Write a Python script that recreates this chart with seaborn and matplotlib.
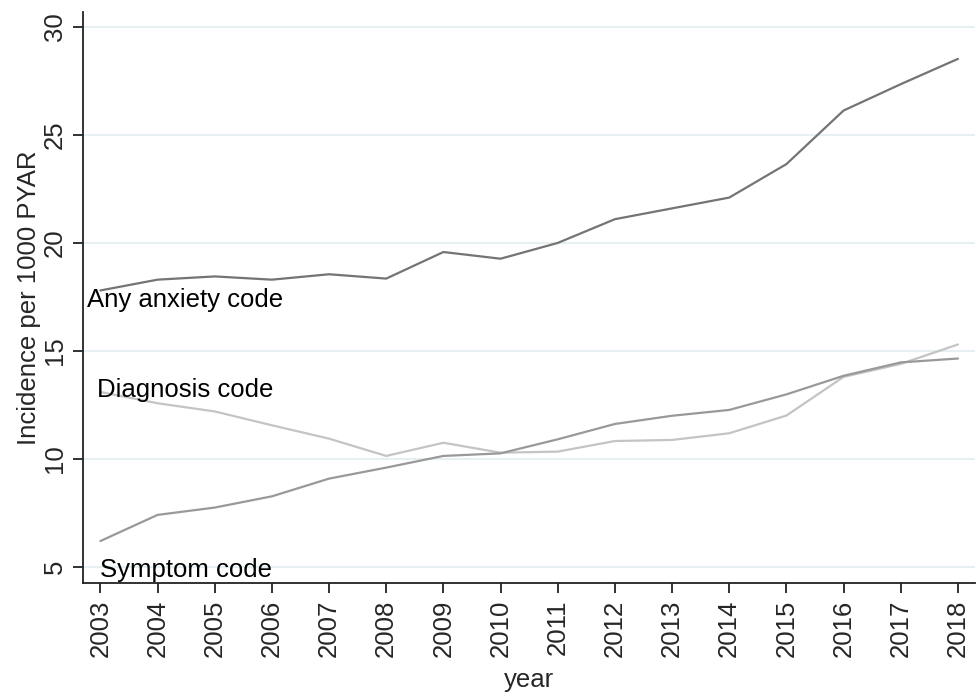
"""Incidence of anxiety codes per 1000 PYAR, 2003-2018."""
import numpy as np
import pandas as pd
import matplotlib
matplotlib.use('Agg')
import matplotlib.pyplot as plt
import seaborn as sns

years = list(range(2003, 2019))
any_anxiety = [17.8, 18.3, 18.45, 18.3, 18.55, 18.35, 19.58, 19.27, 20.0, 21.1,
               21.6, 22.1, 23.65, 26.13, 27.35, 28.52]
diagnosis = [13.1, 12.58, 12.2, 11.56, 10.94, 10.14, 10.75, 10.29, 10.34, 10.83,
             10.88, 11.19, 12.01, 13.8, 14.4, 15.3]
symptom = [6.2, 7.41, 7.75, 8.27, 9.09, 9.6, 10.14, 10.26, 10.91, 11.62,
           12.0, 12.27, 12.99, 13.85, 14.47, 14.65]

series = ['Any anxiety code', 'Diagnosis code', 'Symptom code']
colours = ['#747474', '#c4c4c4', '#999999']
# label offset from the 2003 point, in pixels
label_offsets = [(-13, -10), (-3, 2), (0, -29)]

df = pd.DataFrame({
    'year': years * 3,
    'value': any_anxiety + diagnosis + symptom,
    'series': np.repeat(series, len(years)),
})

sns.set_style('white')
plt.rcParams['font.family'] = ['Liberation Sans', 'DejaVu Sans']
FS = 18.5

fig = plt.figure(figsize=(9.79, 6.94), dpi=100)
ax = fig.add_axes([0.085, 0.16, 0.911, 0.823])

sns.lineplot(data=df, x='year', y='value', hue='series', hue_order=series,
             palette=colours, linewidth=1.6, legend=False, ax=ax)

for name, (dx, dy) in zip(series, label_offsets):
    v0 = df[(df.series == name) & (df.year == years[0])].value.iloc[0]
    ax.annotate(name, xy=(years[0], v0), xytext=(dx, dy),
                textcoords='offset pixels', ha='left', va='center',
                fontsize=FS, color='black')

ax.set_xlim(2002.7, 2018.3)
ax.set_ylim(4.26, 30.7)
ax.set_xticks(years)
ax.set_yticks([5, 10, 15, 20, 25, 30])
ax.grid(axis='y', color='#e6eff1', linewidth=1.5)
ax.set_axisbelow(True)

for s in ['top', 'right']:
    ax.spines[s].set_visible(False)
for s in ['left', 'bottom']:
    ax.spines[s].set_color('#222222')
    ax.spines[s].set_linewidth(1.3)

ax.tick_params(axis='both', direction='out', length=7, width=1.3,
               color='#222222', labelsize=FS, left=True, bottom=True, pad=5)
plt.setp(ax.get_xticklabels(), rotation=90, va='top', ha='center')
plt.setp(ax.get_yticklabels(), rotation=90, va='center', ha='right')

ax.set_xlabel('year', fontsize=FS, labelpad=8)
ax.set_ylabel('Incidence per 1000 PYAR', fontsize=FS, labelpad=1)

plt.savefig('out.png', dpi=100)
